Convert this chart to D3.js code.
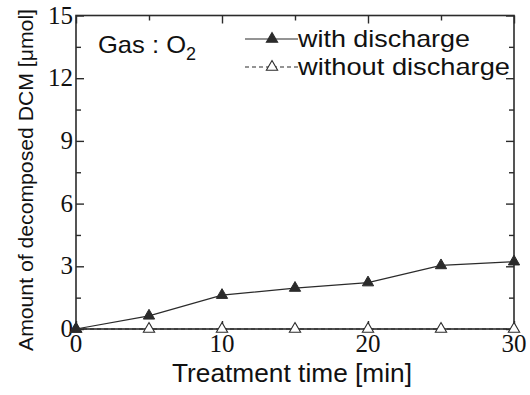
<!DOCTYPE html>
<html>
<head>
<meta charset="utf-8">
<script src="https://cdn.jsdelivr.net/npm/d3@7"></script>
<style>
  body { margin: 0; background: #fff; }
  svg { display: block; }
  .serif { font-family: "Liberation Serif", "Times New Roman", Times, "Nimbus Roman", "DejaVu Serif", serif; }
  .sans { font-family: "Liberation Sans", Arial, Helvetica, sans-serif; }
</style>
</head>
<body>
<svg id="chart" width="530" height="395"></svg>
<script>
"use strict";

// data
const times = [0, 5, 10, 15, 20, 25, 30];
const withDischarge = [0, 0.63, 1.62, 1.96, 2.22, 3.04, 3.22];
const withoutDischarge = [0, 0, 0, 0, 0, 0, 0];
const xTicks = [0, 10, 20, 30];
const yTicks = [0, 3, 6, 9, 12, 15];

const svg = d3.select("#chart");
const margin = { top: 15.5, right: 16, bottom: 66, left: 76 };
const width = 530 - margin.left - margin.right;
const height = 395 - margin.top - margin.bottom;
const ink = "#2b2b2b";

const x = d3.scaleLinear().domain([0, 30]).range([margin.left, margin.left + width]);
const y = d3.scaleLinear().domain([0, 15]).range([margin.top + height, margin.top]);

const g = svg.append("g");

// frame
g.append("rect")
    .attr("x", x(0)).attr("y", y(15))
    .attr("width", width).attr("height", height)
    .attr("fill", "none").attr("stroke", ink).attr("stroke-width", 1.6);

// inward ticks on all four sides, major + minor
const xMajor = d3.range(0, 31, 10), xMinor = d3.range(5, 30, 10);
const yMajor = yTicks, yMinor = d3.range(1.5, 15, 3);

function ticks(axisFn, scale, vals, size, tr) {
    g.append("g").attr("transform", tr)
        .call(axisFn(scale).tickValues(vals).tickSize(size).tickFormat(""))
        .call(s => s.select(".domain").remove())
        .call(s => s.selectAll("line").attr("stroke", ink).attr("stroke-width", 1.4));
}
const bY = "translate(0," + y(0) + ")", tY = "translate(0," + y(15) + ")";
const lX = "translate(" + x(0) + ",0)", rX = "translate(" + x(30) + ",0)";
ticks(d3.axisTop, x, xMajor, 8, bY);
ticks(d3.axisTop, x, xMinor, 5, bY);
ticks(d3.axisBottom, x, xMajor, 8, tY);
ticks(d3.axisBottom, x, xMinor, 5, tY);
ticks(d3.axisRight, y, yMajor, 8, lX);
ticks(d3.axisRight, y, yMinor, 5, lX);
ticks(d3.axisLeft, y, yMajor, 8, rX);
ticks(d3.axisLeft, y, yMinor, 5, rX);

// tick labels (Times-like)
g.selectAll(".xl").data(xTicks).enter().append("text")
    .attr("class", "serif")
    .attr("x", d => x(d)).attr("y", y(0) + 23)
    .attr("text-anchor", "middle")
    .attr("font-size", 25).attr("fill", "#111")
    .text(d => d);
g.selectAll(".yl").data(yTicks).enter().append("text")
    .attr("class", "serif")
    .attr("x", x(0) - 3).attr("y", d => y(d) + 8)
    .attr("text-anchor", "end")
    .attr("font-size", 25).attr("fill", "#111")
    .text(d => d);

// axis titles
svg.append("text")
    .attr("class", "sans")
    .attr("x", 292).attr("y", 382)
    .attr("text-anchor", "middle")
    .attr("font-size", 25).attr("fill", "#111")
    .attr("textLength", 240).attr("lengthAdjust", "spacingAndGlyphs")
    .text("Treatment time [min]");
svg.append("text")
    .attr("class", "sans")
    .attr("transform", "translate(33,180) rotate(-90)")
    .attr("text-anchor", "middle")
    .attr("font-size", 21).attr("fill", "#111")
    .attr("textLength", 342).attr("lengthAdjust", "spacingAndGlyphs")
    .text("Amount of decomposed DCM [\u03bcmol]");

// series
const line = d3.line().x((d, i) => x(times[i])).y(d => y(d));
const tri = d3.symbol().type(d3.symbolTriangle).size(55);

g.append("path").datum(withoutDischarge)
    .attr("d", line).attr("fill", "none")
    .attr("stroke", ink).attr("stroke-width", 1.2).attr("stroke-dasharray", "4,3");
g.append("path").datum(withDischarge)
    .attr("d", line).attr("fill", "none")
    .attr("stroke", ink).attr("stroke-width", 1.2);

g.selectAll(".open").data(withoutDischarge).enter().append("path")
    .attr("d", tri)
    .attr("transform", (d, i) => "translate(" + x(times[i]) + "," + y(d) + ")")
    .attr("fill", "#fff").attr("stroke", ink).attr("stroke-width", 1.1);
g.selectAll(".fill").data(withDischarge).enter().append("path")
    .attr("d", tri)
    .attr("transform", (d, i) => "translate(" + x(times[i]) + "," + y(d) + ")")
    .attr("fill", ink).attr("stroke", ink).attr("stroke-width", 1);

// legend
const legend = [
    { label: "with discharge", dash: null, fill: ink, y: 39, w: 172 },
    { label: "without discharge", dash: "4,3", fill: "#fff", y: 67, w: 212 }
];
legend.forEach(l => {
    svg.append("line")
        .attr("x1", 245).attr("x2", 298).attr("y1", l.y).attr("y2", l.y)
        .attr("stroke", ink).attr("stroke-width", 1.2)
        .attr("stroke-dasharray", l.dash);
    svg.append("path").attr("d", tri)
        .attr("transform", "translate(272," + l.y + ")")
        .attr("fill", l.fill).attr("stroke", ink).attr("stroke-width", 1.1);
    svg.append("text")
        .attr("class", "sans")
        .attr("x", 298).attr("y", l.y + 8)
        .attr("font-size", 24).attr("fill", "#111")
        .attr("textLength", l.w).attr("lengthAdjust", "spacingAndGlyphs")
        .text(l.label);
});

// gas annotation
const gas = svg.append("text")
    .attr("class", "sans")
    .attr("x", 98).attr("y", 53)
    .attr("font-size", 24).attr("fill", "#111");
gas.append("tspan").attr("textLength", 88).attr("lengthAdjust", "spacingAndGlyphs").text("Gas : O");
gas.append("tspan").attr("dy", 7).attr("font-size", 18).text("2");
</script>
</body>
</html>
